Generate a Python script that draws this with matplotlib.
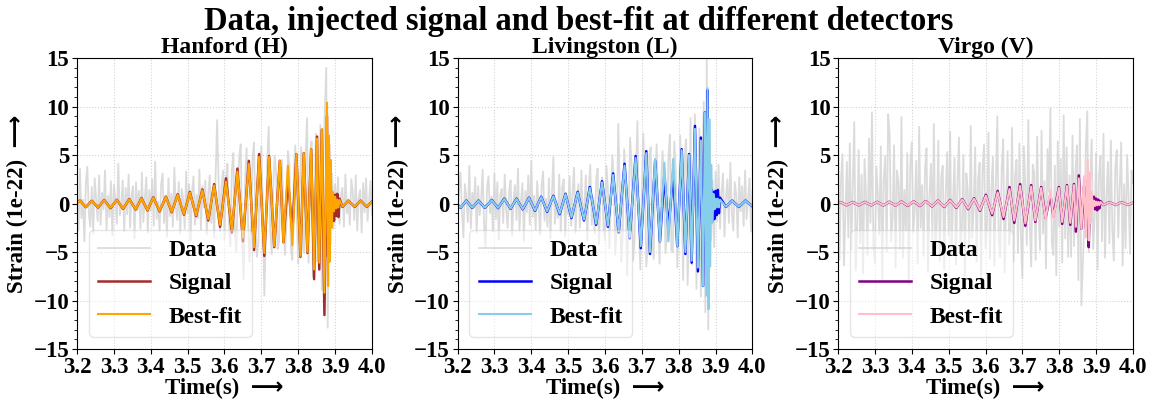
import numpy as np
import matplotlib
matplotlib.use("Agg")
import matplotlib.pyplot as plt
from matplotlib.ticker import AutoMinorLocator

plt.rcParams["font.family"] = ["Liberation Serif", "DejaVu Sans"]
plt.rcParams["font.weight"] = "bold"
plt.rcParams["axes.titleweight"] = "bold"
plt.rcParams["axes.labelweight"] = "bold"

detectors = ["Hanford (H)", "Livingston (L)", "Virgo (V)"]
signal_colors = ["brown", "blue", "purple"]
bestfit_colors = ["orange", "skyblue", "pink"]

# whitened strain (1e-22), sampled every 4 ms from 3.2 s to 4.0 s
data_H = [
    1.2, -2.8, 3.6, -1.5, 0.4, -3.9, 2.1, 3.8, -0.9, -2.4, 1.7, -3.1, 2.6, 0.3, -1.8, 2.9, -2.2, 1.1, -0.6, 3.4,
    -2.7, 0.8, -1.4, 2.3, -3.3, 1.9, 0.5, -2.1, 4.1, -1.2, -0.3, 2.4, -2.9, 1.6, -1.1, 3.0, -2.5, 0.9, 1.8, -3.6,
    2.2, -0.7, 1.3, -2.6, 3.2, -1.9, 0.6, 2.7, -3.0, 1.4, -0.8, 2.5, -2.3, 4.3, -1.6, 0.2, -2.8, 1.9, 3.1, -2.0,
    0.7, -3.4, 2.6, -1.3, 1.0, -2.4, 3.7, -0.5, -1.7, 2.2, -3.1, 1.5, 0.4, -2.6, 3.3, -1.0, 2.0, -3.8, 1.2, 2.8,
    -2.2, 0.9, -1.5, 3.5, -2.7, 1.8, -0.4, 2.4, -3.2, 1.1, 2.9, -2.0, 0.6, -3.5, 3.0, 8.6, 2.3, -2.9, 1.7, 3.4,
    -3.6, 2.8, 4.1, -1.9, -4.4, 3.5, 5.2, -2.6, -5.0, 1.2, 4.8, 6.1, -3.9, -7.8, 2.4, 5.7, -1.8, -6.0, -3.2, 4.6,
    6.3, -2.1, -5.5, -4.0, 3.8, 5.9, -0.6, -9.5, -3.5, 4.4, 7.9, -2.8, -5.2, 1.6, 4.9, 3.2, -4.7, -3.9, 2.7, 4.5,
    -1.4, -5.3, -2.2, 5.4, 3.9, -4.6, -5.8, 2.9, 6.0, -1.1,
    -6.2, 1.8, 5.8, -4.4, -5.1, 4.9, 8.8, -6.1, 3.6, 6.4, -7.5, 0.8, 7.2, -6.0, -3.1, 8.1, -8.9, 4.7, 9.5, 14.0,
    -12.8, 5.5, -4.2, 3.1, -2.6, 2.0, -1.3, 2.7, -2.1, 0.9, 1.6, -2.4, 3.0, -1.0, 0.4, -2.2, 2.5, 1.1, -1.7, 2.9,
    -2.8, 0.6, 1.4, -3.0, 2.1, -0.9, 2.6, -1.8, 0.3, 2.3, -1.2,
]
data_L = [
    -2.1, 1.4, 3.2, -0.8, -3.5, 2.0, 0.6, -1.9, 3.9, -2.6, 1.1, -0.4, 2.7, -3.0, 1.8, -1.2, 0.3, 3.5, -2.3, -4.6,
    1.6, 2.8, -1.0, 0.7, -2.9, 3.1, -1.6, 2.2, -3.7, 0.9, 1.5, -2.0, 3.0, -0.6, -2.5, 1.2, 2.4, -3.3, 0.4, 1.9,
    -1.7, 3.6, -2.8, 0.2, 2.1, -3.9, 1.3, -0.9, 2.9, -2.2, 4.4, -1.4, 0.8, -2.7, 2.3, -0.3, -3.2, 1.7, 3.3, -1.8,
    0.5, -2.4, 2.6, -3.6, 1.0, 4.8, -2.1, 0.1, -1.5, 3.0, -2.9, 1.6, 2.5, -3.4, 0.7, -1.1, 2.8, -2.3, 1.2, 3.7,
    -3.0, 0.4, 2.0, -2.5, 3.4, -1.6, -0.2, 2.9, -3.8, 1.4, 4.0, -2.2, 0.6, -3.1, 2.4, 3.6, -4.2, 1.1, 2.7, -2.6,
    -3.8, 3.9, 1.5, -4.6, 0.8, 5.0, 2.2, -5.3, -1.9, 8.2, 1.7, -6.0, -3.2, 5.6, 3.0, -7.4, -1.2, 6.8, 4.1, -5.9,
    -4.0, 3.3, 8.5, -2.4, -6.8, 1.5, 7.2, 2.6, -6.5, -4.1, 4.9, 5.8, -3.5, -5.7, 2.1, 6.1, -0.5, -6.2, 1.9, 5.4,
    2.8, -5.1, -3.3, 4.7, 7.1, -4.8, -5.0, 6.4, 3.2, -6.6, -2.7, 7.0, 1.4, -7.9, 5.2, 6.6, -8.4, -2.9, 8.8, -6.3,
    3.1, 9.2, -8.8, 1.0, 7.7, -9.6, 4.3, 10.5, -11.2, 15.0, -13.0, 6.2, -3.8, 2.4, -4.5, 3.3, -1.8, 4.0, -2.6, 1.2,
    3.1, -3.4, 0.6, 2.5, -2.0, 4.2, -1.1, -2.8, 2.2, 0.9, -3.5, 2.7, -0.8, 1.8, -2.3, 3.4, -1.6, 0.5, 2.6, -2.9, 1.3,
]
data_V = [
    7.6, -5.8, 2.4, 5.1, -6.4, -1.2, 4.3, -3.5, 6.2, -4.8, 1.7, 8.4, -6.9, -2.3, 5.5, -4.1, 3.0, -7.2, 4.6, 0.8,
    -5.3, 6.7, -2.0, 9.4, -4.4, -6.1, 3.8, 1.1, -3.2, 5.9, -7.8, 2.6, 4.9, -5.0, 9.2, 7.1, -3.9, -1.5, 6.0, -6.6,
    3.4, 2.1, -4.7, 8.9, -5.6, 1.4, -2.8, 5.2, -8.3, 4.0, 6.3, -3.0, -0.7, 4.4, -6.2, 7.9, -2.5, 1.9, -5.4, 3.6,
    5.7, -7.0, 0.9, 4.1, -3.7, 8.2, -4.9, -1.8, 6.5, -5.9, 2.8, 3.9, -6.8, 1.0, 5.3, -3.3, 7.4, -5.2, 0.4, 4.7,
    -6.3, 2.2, 6.8, -4.0, -2.6, 5.0, -7.5, 3.1, 1.3, -4.5, 8.0, -3.6, -0.5, 5.8, -6.0, 2.5, 4.2, -8.1, 3.5, 6.1,
    -4.6, -2.2, 7.3, -5.7, 1.6, 4.8, -6.4, 2.0, 9.0, -3.8, -5.5, 3.7, 6.6, -7.1, 0.2, 5.4, -4.2, -2.9, 7.8, -6.0,
    2.7, 4.5, -5.1, 6.2, -3.4, -7.7, 5.9, 1.8, -4.3, 8.6, -2.1, -6.5, 4.0, 3.2, -5.8, 6.9, -1.0, -4.8, 7.5, -3.1,
    2.3, -6.7, 5.6, 1.2, 9.8, -4.0, -5.3, 3.9, -7.4, 6.4, -2.4, 4.6, -6.1, 9.1, -3.6, 5.8, -5.5, 2.9, -5.5, 7.0,
    -4.4, 3.3, 6.0, -7.9, 8.7, -10.5, -6.3, -2.0, 5.7, 9.5, -5.0, 2.4, 6.6, -4.7, -1.3, 5.2, -6.8, 3.0, 4.9, -3.9,
    7.2, -5.6, 0.6, 4.3, -4.1, 6.5, -2.7, -5.9, 3.8, 5.5, -3.5, 1.7, 6.3, -6.4, 2.0, -4.6, 5.0, 0.9, -5.2, 3.4, 2.1,
]

# injected waveform and best-fit template, given at their turning points
t_H = [
    3.200, 3.208, 3.224, 3.240, 3.257, 3.274, 3.291, 3.308, 3.325, 3.342,
    3.359, 3.375, 3.391, 3.407, 3.424, 3.441, 3.457, 3.473, 3.490, 3.506,
    3.523, 3.540, 3.556, 3.572, 3.588, 3.604, 3.620, 3.635, 3.650, 3.666,
    3.680, 3.694, 3.708, 3.721, 3.735, 3.750, 3.760, 3.772, 3.784, 3.795,
    3.806, 3.815, 3.825, 3.835, 3.843, 3.851, 3.857, 3.864, 3.871, 3.878,
    3.881, 3.883, 3.885, 3.888, 3.891, 3.894, 3.897, 3.900, 3.903, 3.906,
    3.909, 3.912, 3.920, 3.936, 3.953, 3.969, 3.986, 4.000,
]
signal_H = [
    0.10, 0.30, -0.38, 0.28, -0.42, 0.36, -0.48, 0.38, -0.55, 0.46,
    -0.62, 0.57, -0.72, 0.64, -0.82, 0.72, -0.90, 0.95, -1.15, 1.20,
    -1.30, 1.45, -1.75, 2.00, -2.40, 2.60, -3.00, 3.60, -3.90, 4.40,
    -4.80, 5.10, -5.40, 4.90, -4.50, 4.40, -4.00, 2.50, -2.90, 5.10,
    -5.50, 5.20, -5.10, 5.60, -7.80, 6.90, -6.80, 7.60, -11.50, 9.00,
    -5.50, 6.10, -3.00, 2.20, -1.50, 1.00, -1.80, 0.90, -1.30, 1.00,
    -1.40, 0.50, -0.35, 0.30, -0.35, 0.30, -0.35, 0.20,
]
bestfit_H = [
    0.10, 0.28, -0.36, 0.26, -0.40, 0.34, -0.45, 0.36, -0.52, 0.43,
    -0.58, 0.53, -0.68, 0.60, -0.77, 0.68, -0.85, 0.88, -1.08, 1.12,
    -1.22, 1.35, -1.62, 1.85, -2.20, 2.25, -2.70, 3.30, -3.50, 4.10,
    -4.50, 4.80, -5.10, 4.80, -4.40, 4.40, -4.00, 3.90, -4.30, 5.10,
    -5.40, 5.20, -5.00, 5.60, -6.80, 6.70, -6.10, 7.70, -9.20, 10.40,
    -8.50, 7.00, -6.00, 4.50, -2.50, 1.20, -0.80, 0.70, -0.50, 0.40,
    -0.40, 0.35, -0.30, 0.28, -0.32, 0.28, -0.32, 0.18,
]

t_L = [
    3.200, 3.208, 3.224, 3.240, 3.257, 3.274, 3.293, 3.310, 3.327, 3.344,
    3.360, 3.377, 3.394, 3.410, 3.427, 3.443, 3.460, 3.477, 3.493, 3.509,
    3.526, 3.543, 3.559, 3.576, 3.592, 3.608, 3.622, 3.637, 3.653, 3.667,
    3.683, 3.697, 3.712, 3.722, 3.736, 3.749, 3.761, 3.772, 3.785, 3.796,
    3.808, 3.818, 3.828, 3.835, 3.844, 3.852, 3.860, 3.866, 3.871, 3.875,
    3.878, 3.881, 3.883, 3.885, 3.888, 3.891, 3.894, 3.897, 3.900, 3.903,
    3.906, 3.909, 3.912, 3.928, 3.945, 3.963, 3.981, 4.000,
]
signal_L = [
    -0.10, -0.45, 0.30, -0.45, 0.30, -0.45, 0.36, -0.47, 0.50, -0.55,
    0.50, -0.60, 0.60, -0.75, 0.70, -0.85, 0.80, -1.10, 1.00, -1.50,
    1.20, -1.75, 1.70, -2.20, 2.30, -2.40, 3.10, -3.00, 4.10, -3.60,
    4.90, -4.60, 5.40, -5.20, 4.40, -3.90, 3.00, -2.70, 3.20, -4.40,
    5.60, -5.20, 5.10, -6.10, 8.00, -7.00, 6.80, -8.50, 9.40, -4.00,
    11.70, -5.80, 3.00, -2.00, 1.50, -1.80, 1.20, -1.60, 1.30, -1.20,
    1.40, -1.00, 0.60, -0.35, 0.30, -0.35, 0.30, -0.30,
]
bestfit_L = [
    -0.10, -0.43, 0.28, -0.43, 0.28, -0.43, 0.34, -0.45, 0.47, -0.52,
    0.47, -0.57, 0.57, -0.71, 0.66, -0.80, 0.75, -1.04, 0.95, -1.42,
    1.13, -1.66, 1.60, -2.08, 2.18, -2.28, 2.95, -2.85, 3.90, -3.45,
    4.70, -4.40, 5.20, -5.00, 4.60, -3.90, 4.20, -3.90, 4.60, -4.40,
    5.50, -5.00, 5.00, -5.90, 7.70, -6.60, 6.50, -8.50, 9.40, -9.50,
    11.90, -10.90, 8.70, -6.50, 4.00, -2.00, 1.00, -0.60, 0.50, -0.40,
    0.50, -0.40, 0.40, -0.33, 0.28, -0.33, 0.28, -0.28,
]

t_V = [
    3.200, 3.207, 3.223, 3.240, 3.256, 3.273, 3.290, 3.306, 3.323, 3.339,
    3.356, 3.372, 3.389, 3.405, 3.422, 3.438, 3.455, 3.471, 3.488, 3.504,
    3.521, 3.537, 3.553, 3.569, 3.585, 3.601, 3.618, 3.633, 3.649, 3.665,
    3.678, 3.694, 3.708, 3.724, 3.735, 3.751, 3.763, 3.776, 3.784, 3.799,
    3.808, 3.821, 3.830, 3.840, 3.845, 3.853, 3.860, 3.867, 3.872, 3.877,
    3.880, 3.883, 3.885, 3.888, 3.891, 3.894, 3.897, 3.900, 3.903, 3.906,
    3.909, 3.912, 3.920, 3.936, 3.953, 3.969, 3.986, 4.000,
]
signal_V = [
    0.05, 0.15, -0.18, 0.15, -0.18, 0.16, -0.19, 0.17, -0.20, 0.18,
    -0.21, 0.20, -0.24, 0.22, -0.26, 0.25, -0.30, 0.30, -0.36, 0.36,
    -0.45, 0.45, -0.58, 0.55, -0.75, 0.90, -1.20, 1.30, -1.60, 1.70,
    -2.00, 2.00, -2.30, 1.90, -1.90, 1.70, -1.50, 0.90, -1.30, 1.70,
    -2.10, 1.90, -2.20, 2.00, -2.90, 2.90, -2.60, 1.80, -2.50, 2.40,
    -4.50, 1.20, -0.80, 0.60, -0.50, 0.70, -0.60, 0.50, -0.70, 0.40,
    -0.50, 0.25, -0.15, 0.14, -0.15, 0.14, -0.15, 0.08,
]
bestfit_V = [
    0.05, 0.14, -0.17, 0.14, -0.17, 0.15, -0.18, 0.16, -0.19, 0.17,
    -0.20, 0.19, -0.22, 0.21, -0.24, 0.23, -0.28, 0.28, -0.33, 0.33,
    -0.41, 0.41, -0.53, 0.50, -0.68, 0.80, -1.05, 1.15, -1.40, 1.50,
    -1.75, 1.80, -2.05, 1.75, -1.75, 1.60, -1.60, 1.40, -1.50, 1.60,
    -1.90, 1.80, -2.00, 1.90, -2.40, 2.60, -2.60, 2.80, -3.50, 4.50,
    -3.80, 3.20, -2.00, 1.20, -0.60, 0.30, -0.25, 0.20, -0.18, 0.16,
    -0.16, 0.15, -0.14, 0.13, -0.14, 0.13, -0.14, 0.08,
]

data = [data_H, data_L, data_V]
times = [t_H, t_L, t_V]
signals = [signal_H, signal_L, signal_V]
bestfits = [bestfit_H, bestfit_L, bestfit_V]

fig, axes = plt.subplots(1, 3, figsize=(11.58, 3.99), dpi=100)
fig.subplots_adjust(left=0.0665, right=0.9784, top=0.8546, bottom=0.1253, wspace=0.29)

for i, ax in enumerate(axes):
    t_data = np.linspace(3.2, 4.0, len(data[i]))
    ax.plot(t_data, data[i], color="lightgrey", lw=1.3, alpha=0.8, label="Data")
    ax.plot(times[i], signals[i], color=signal_colors[i], lw=1.8, label="Signal")
    ax.plot(times[i], bestfits[i], color=bestfit_colors[i], lw=1.5, label="Best-fit")

    ax.set_xlim(3.2, 4.0)
    ax.set_ylim(-15, 15)
    ax.set_xticks(np.arange(3.2, 4.01, 0.1))
    ax.set_yticks([-15, -10, -5, 0, 5, 10, 15])
    ax.yaxis.set_minor_locator(AutoMinorLocator(5))
    ax.tick_params(axis="both", which="major", labelsize=16.5, pad=2)
    ax.grid(True, linestyle=":", color="lightgrey", lw=0.8)

    ax.set_title(detectors[i], fontsize=17, pad=2)
    ax.set_xlabel("Time(s)  \u27f6", fontsize=16.5, labelpad=0)
    ax.set_ylabel("Strain (1e-22)  \u27f6", fontsize=16.5, labelpad=4)
    ax.legend(loc="lower left", fontsize=17, handlelength=2.2, framealpha=0.5,
              labelspacing=0.5)

fig.suptitle("Data, injected signal and best-fit at different detectors",
             fontsize=23.5, fontweight="bold", y=0.985)

plt.savefig("out.png")
